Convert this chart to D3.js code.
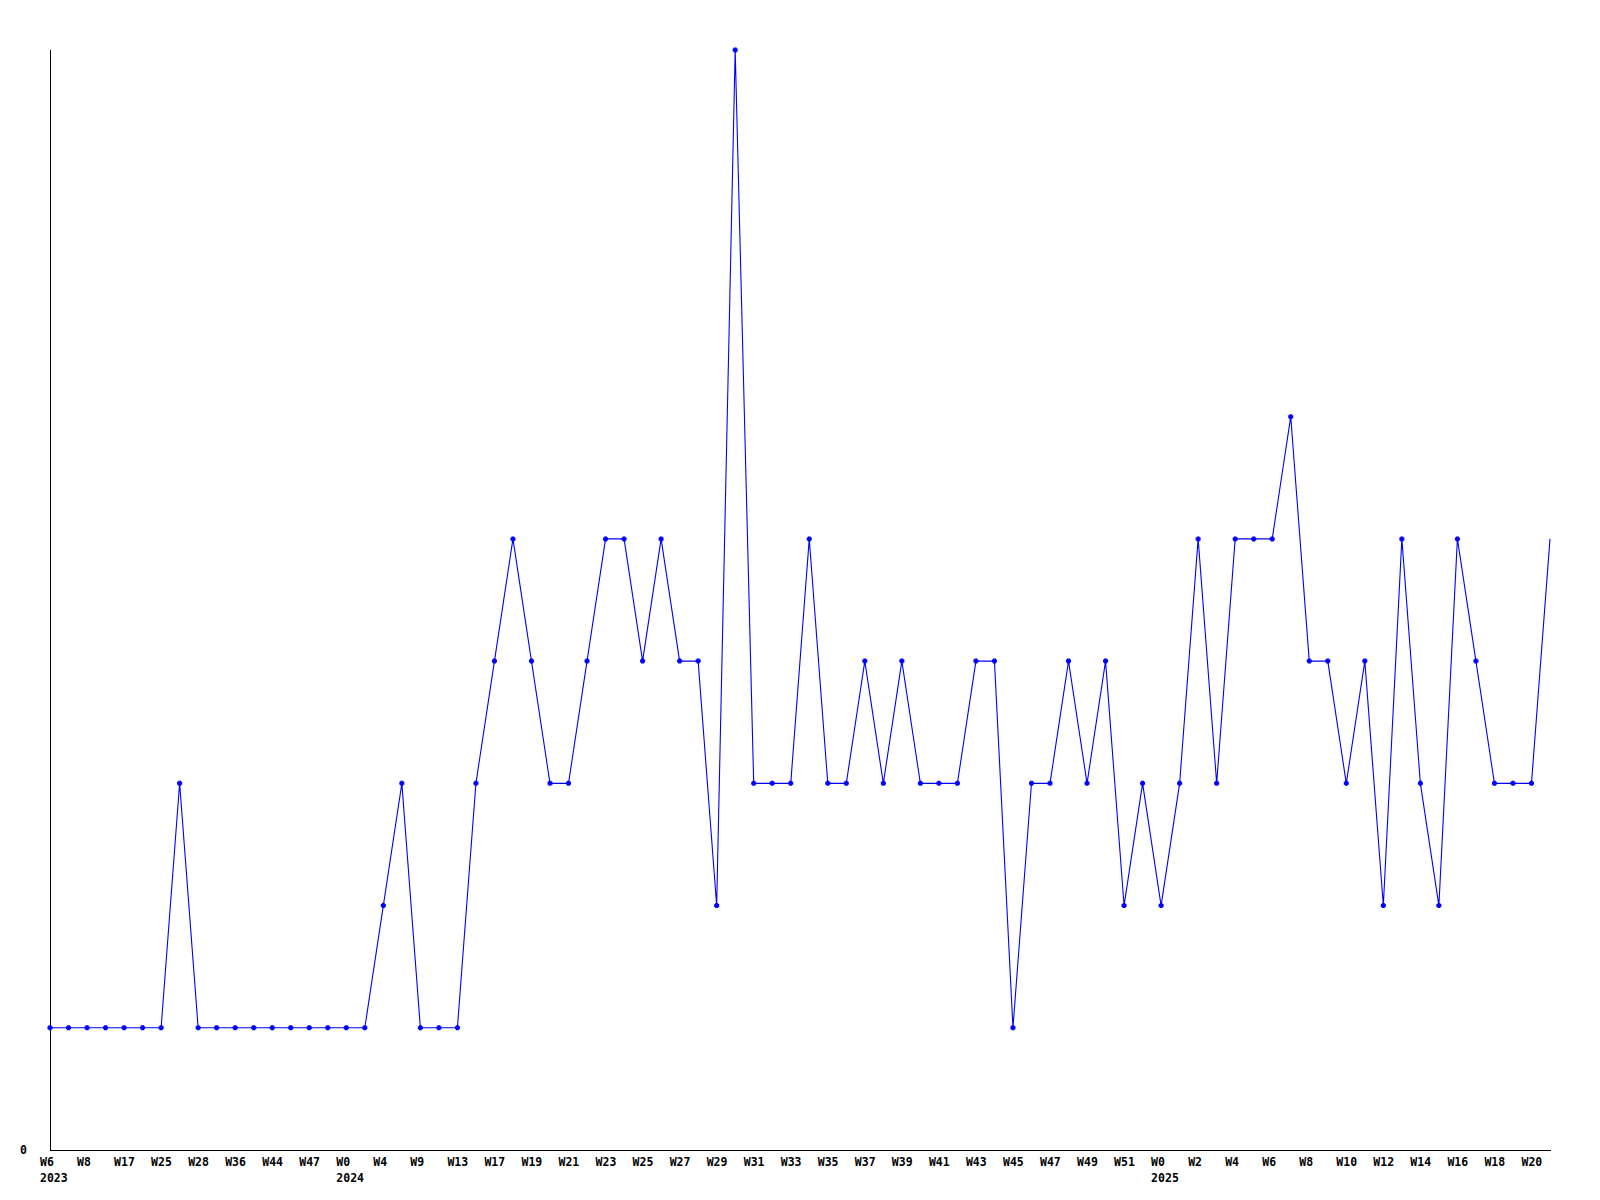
<!DOCTYPE html>
<html>
<head>
<meta charset="utf-8">
<script src="https://cdn.jsdelivr.net/npm/d3@7"></script>
<style>
  html, body { margin: 0; padding: 0; background: #fff; }
  svg { display: block; }
  .tick text, .lbl { font-family: "DejaVu Sans Mono", monospace; font-weight: bold; font-size: 11.5px; fill: #000; }
</style>
</head>
<body>
<svg id="chart" width="1600" height="1200"></svg>
<script>
// Week labels (one per data point)
const weeks = [
  "W6","W7","W8","W12","W17","W21","W25","W27","W28","W32","W36","W40","W44","W45","W47","W50",
  "W0","W2","W4","W6","W9","W11","W13","W15",
  "W17","W18","W19","W20","W21","W22","W23","W24","W25","W26","W27","W28","W29","W30","W31","W32",
  "W33","W34","W35","W36","W37","W38","W39","W40","W41","W42","W43","W44","W45","W46","W47","W48",
  "W49","W50","W51","W52",
  "W0","W1","W2","W3","W4","W5","W6","W7","W8","W9","W10","W11","W12","W13","W14","W15",
  "W16","W17","W18","W19","W20","W21"
];
// Year shown under the first week of each year
const years = [
  "2023","","","","","","","","","","","","","","","",
  "2024","","","","","","","","","","","","","","","","","","","","","","","",
  "","","","","","","","","","","","","","","","","","","","",
  "2025","","","","","","","","","","","","","","","","","","","","",""
];
// Series values
const values = [
  1,1,1,1,1,1,1,3,1,1,1,1,1,1,1,1,
  1,1,2,3,1,1,1,3,
  4,5,4,3,3,4,5,5,4,5,4,4,2,9,3,3,
  3,5,3,3,4,3,4,3,3,3,4,4,1,3,3,4,
  3,4,2,3,
  2,3,5,3,5,5,5,6,4,4,3,4,2,5,3,2,
  5,4,3,3,3,5
];
const yTicks = [0];

const svg = d3.select("#chart");
const idx = values.map((d, i) => i);

const x = d3.scalePoint().domain(idx).range([50, 1550]);
const y = d3.scaleLinear().domain([0, 9]).range([1150, 50]);

// X axis
const xAxis = svg.append("g")
  .attr("transform", "translate(0,1150)")
  .call(d3.axisBottom(x)
    .tickValues(idx.filter(i => i % 2 === 0))
    .tickSize(0)
    .tickSizeOuter(0)
    .tickFormat(i => weeks[i]));
xAxis.select(".domain").attr("stroke", "#000").attr("stroke-width", 1).attr("shape-rendering", "crispEdges")
  .attr("d", "M50,0.5H1551");
xAxis.selectAll(".tick text")
  .attr("text-anchor", "start")
  .attr("x", -10.5)
  .attr("y", 0)
  .attr("dy", null)
  .each(function(i) {
    const t = d3.select(this);
    t.text(null);
    t.append("tspan").attr("x", -10.5).attr("y", 16).text(weeks[i]);
    if (years[i]) t.append("tspan").attr("x", -10.5).attr("y", 31.5).text(years[i]);
  });

// Y axis
const yAxis = svg.append("g")
  .attr("transform", "translate(50,0)")
  .call(d3.axisLeft(y).tickValues(yTicks).tickSize(0).tickSizeOuter(0).tickFormat(d3.format("d")));
yAxis.select(".domain").attr("stroke", "#000").attr("stroke-width", 1).attr("shape-rendering", "crispEdges")
  .attr("d", "M0.5,1150V50");
yAxis.selectAll(".tick text")
  .attr("text-anchor", "start")
  .attr("x", -30)
  .attr("dy", "0.3em");

// Line
const line = d3.line().x((d, i) => x(i)).y(d => y(d));
svg.append("path")
  .datum(values)
  .attr("fill", "none")
  .attr("stroke", "#0000ff")
  .attr("stroke-width", 1.1)
  .attr("d", line);

// Markers (plus shapes)
const plus = "M-2.5,-1.5h5v3h-5zM-1.5,-2.5h3v5h-3z";
svg.append("g").selectAll("path")
  .data(values.slice(0, values.length - 1))
  .join("path")
  .attr("transform", (d, i) => `translate(${x(i)},${y(d)})`)
  .attr("d", plus)
  .attr("fill", "#0000ff");
</script>
</body>
</html>
